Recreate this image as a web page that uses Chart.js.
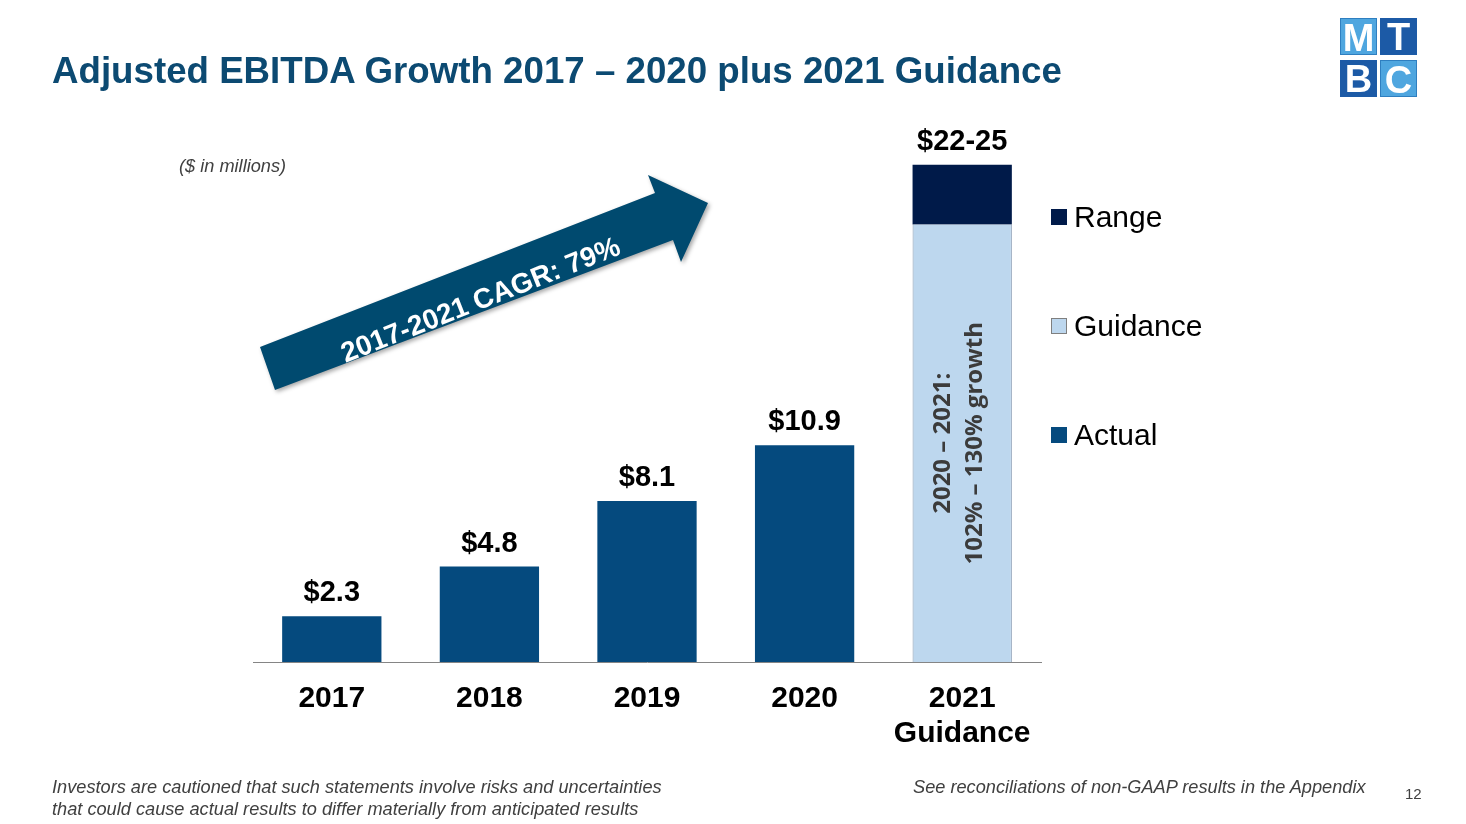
<!DOCTYPE html>
<html>
<head>
<meta charset="utf-8">
<title>Adjusted EBITDA Growth</title>
<script src="https://cdn.jsdelivr.net/npm/chart.js@4.4.4/dist/chart.umd.min.js"></script>
<style>
  html, body { margin: 0; padding: 0; background: #fff; }
  body { width: 1466px; height: 824px; position: relative; overflow: hidden; font-family: 'Liberation Sans', Arial, sans-serif; }
  .abs { position: absolute; white-space: nowrap; }
  #title { left: 52px; top: 53px; font-size: 36.7px; line-height: 36px; font-weight: bold; color: #0c4a72; }
  #units { left: 179px; top: 157px; font-size: 18.2px; line-height: 18px; font-style: italic; color: #404040; }
  .foot { font-size: 18.2px; line-height: 22px; font-style: italic; color: #404040; }
  #pageno { left: 1405px; top: 785px; font-size: 15px; line-height: 18px; color: #404040; }
  #chartbox { position: absolute; left: 0; top: 0; width: 1466px; height: 824px; }
  .logo { position: absolute; width: 37px; height: 37px; color: #fff; font-weight: bold; font-size: 38px; line-height: 39px; text-align: center; box-sizing: border-box; }
  .lg { position: absolute; left: 1051px; font-size: 30px; line-height: 30px; color: #000; }
  .lg span { position: absolute; left: 0; top: 7px; width: 16px; height: 16px; box-sizing: border-box; }
  .lg b { font-weight: normal; position: absolute; left: 23px; top: 0; white-space: nowrap; }
</style>
</head>
<body>
<div id="chartbox"><canvas id="chart"></canvas></div>

<div id="title" class="abs">Adjusted EBITDA Growth 2017 – 2020 plus 2021 Guidance</div>
<div id="units" class="abs">($ in millions)</div>

<div class="logo" style="left:1340px;top:18px;background:#4fa6df;border:1px solid #2f7fc0;">M</div>
<div class="logo" style="left:1380px;top:18px;background:#1c5aa6;">T</div>
<div class="logo" style="left:1340px;top:60px;background:#1c5aa6;">B</div>
<div class="logo" style="left:1380px;top:60px;background:#4fa6df;border:1px solid #2f7fc0;">C</div>

<div id="legend"></div>

<div class="abs foot" style="left:52px;top:776px;">Investors are cautioned that such statements involve risks and uncertainties<br>that could cause actual results to differ materially from anticipated results</div>
<div class="abs foot" style="left:913px;top:776px;">See reconciliations of non-GAAP results in the Appendix</div>
<div id="pageno" class="abs">12</div>

<script>
// chart data ($ in millions)
const categories = ['2017', '2018', '2019', '2020', ['2021', 'Guidance']];
const actualValues = [2.3, 4.8, 8.1, 10.9, null];
const guidanceLow = [null, null, null, null, 22];
const rangeValues = [null, null, null, null, 3];
const growthNote = ['2020 – 2021:', '102% – 130% growth'];
const cagrNote = '2017-2021 CAGR: 79%';

const colors = {actual: '#054a7e', guidance: '#bdd7ee', guidanceBorder: '#8497b0', range: '#001a49'};

// legend, top to bottom
const legendItems = [
    {label: 'Range', color: colors.range, border: colors.range, top: 202},
    {label: 'Guidance', color: colors.guidance, border: '#7f7f7f', top: 311},
    {label: 'Actual', color: colors.actual, border: colors.actual, top: 420},
];
document.getElementById('legend').innerHTML = legendItems.map(it =>
    `<div class="lg" style="top:${it.top}px"><span style="background:${it.color};border:1px solid ${it.border}"></span><b>${it.label}</b></div>`
).join('');

function valueLabel(i) {
    if (guidanceLow[i] != null) {
        return '$' + guidanceLow[i] + '-' + (guidanceLow[i] + rangeValues[i]);
    }
    return '$' + actualValues[i].toFixed(1);
}

const annotations = {
    id: 'annotations',
    beforeDatasetsDraw(chart) {
        // growth arrow
        const ctx = chart.ctx;
        const pts = [[260, 347], [655, 193], [648, 175], [708, 203], [681, 262], [673, 240], [275, 390]];
        ctx.save();
        ctx.shadowColor = 'rgba(0,0,0,0.35)';
        ctx.shadowBlur = 4;
        ctx.shadowOffsetX = 2;
        ctx.shadowOffsetY = 2;
        ctx.fillStyle = '#004a6f';
        ctx.beginPath();
        pts.forEach((p, k) => k ? ctx.lineTo(p[0], p[1]) : ctx.moveTo(p[0], p[1]));
        ctx.closePath();
        ctx.fill();
        ctx.restore();

        ctx.save();
        ctx.translate(481, 301);
        ctx.rotate(-21.5 * Math.PI / 180);
        ctx.fillStyle = '#fff';
        ctx.font = "bold 28px 'Liberation Sans', Arial";
        ctx.textAlign = 'center';
        ctx.textBaseline = 'middle';
        ctx.fillText(cagrNote, 0, 0);
        ctx.restore();
    },
    afterDatasetsDraw(chart) {
        const ctx = chart.ctx;
        ctx.save();
        ctx.fillStyle = '#000';
        ctx.font = "bold 29px 'Liberation Sans', Arial";
        ctx.textAlign = 'center';
        ctx.textBaseline = 'alphabetic';
        categories.forEach((c, i) => {
            let top = null, x = null;
            chart.data.datasets.forEach((ds, di) => {
                const el = chart.getDatasetMeta(di).data[i];
                if (ds.data[i] != null && el) {
                    top = top == null ? el.y : Math.min(top, el.y);
                    x = el.x;
                }
            });
            if (top != null) ctx.fillText(valueLabel(i), x, top - 15);
        });
        ctx.restore();

        // note inside the guidance bar
        const g = chart.getDatasetMeta(1).data[4];
        ctx.save();
        ctx.translate(g.x, (g.y + g.base) / 2);
        ctx.rotate(-Math.PI / 2);
        ctx.fillStyle = '#3b3b3b';
        ctx.font = "bold 24px 'Open Sans'";
        ctx.textAlign = 'center';
        ctx.textBaseline = 'middle';
        ctx.fillText(growthNote[0], 0, -19);
        ctx.fillText(growthNote[1], 0, 13);
        ctx.restore();
    }
};

new Chart(document.getElementById('chart'), {
    type: 'bar',
    data: {
        labels: categories,
        datasets: [
            {label: 'Actual', data: actualValues, backgroundColor: colors.actual,
                barPercentage: 0.63, categoryPercentage: 1},
            {label: 'Guidance', data: guidanceLow, backgroundColor: colors.guidance,
                borderColor: colors.guidanceBorder, borderWidth: {left: 1, right: 1, top: 0, bottom: 0},
                barPercentage: 0.63, categoryPercentage: 1},
            {label: 'Range', data: rangeValues, backgroundColor: colors.range,
                barPercentage: 0.63, categoryPercentage: 1},
        ],
    },
    options: {
        responsive: true,
        maintainAspectRatio: false,
        animation: false,
        layout: {padding: {left: 253, right: 425, top: 142, bottom: 0}},
        plugins: {legend: {display: false}, tooltip: {enabled: false}},
        scales: {
            x: {
                stacked: true,
                grid: {display: false},
                border: {display: true, color: '#858585', width: 1},
                ticks: {
                    color: '#000',
                    padding: 11,
                    maxRotation: 0,
                    autoSkip: false,
                    font: {family: "'Liberation Sans', Arial", size: 30, weight: 'bold', lineHeight: 1.18},
                },
                afterFit(scale) { scale.height = 162; },
            },
            y: {stacked: true, display: false, min: 0, max: 26.15},
        },
    },
    plugins: [annotations],
});
</script>
</body>
</html>
